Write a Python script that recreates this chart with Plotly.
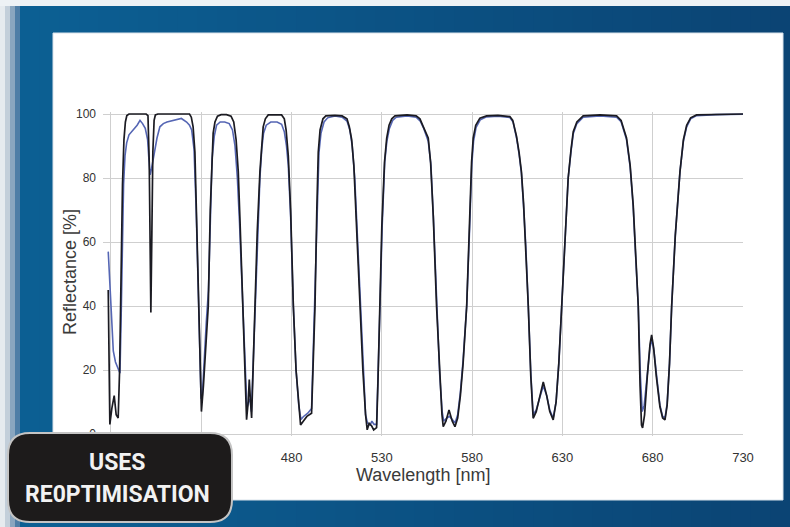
import plotly.graph_objects as go

W, H = 790, 527

# Design (target) reflectance of the multi-notch coating
design_nm = [378.5, 379.4, 380.5, 381.8, 382.9, 384.0, 384.8, 385.6, 386.4, 387.2, 388.0, 388.8, 390.0,
             399.5, 400.5, 401.2, 401.7, 402.1, 402.6, 403.2, 403.9, 404.6, 406.0,
             423.5, 424.5, 425.5, 426.5, 427.5, 428.5, 429.3, 430.1, 431.2, 432.5, 433.9, 435.0, 436.0,
             436.6, 437.6, 439.0, 441.0, 444.0, 446.5, 448.0, 449.3, 450.5, 451.5, 452.4, 453.3, 454.2,
             455.1, 456.0, 456.6, 457.3, 457.9, 458.8, 459.7, 461.0, 462.5, 463.5, 464.3, 465.5, 467.1,
             474.5, 476.0, 477.0, 478.2, 479.5, 481.0, 482.5, 484.0, 485.0, 486.5, 488.5, 491.1, 492.0,
             493.0, 494.0, 494.8, 495.8, 497.4, 499.0, 504.0, 508.0, 510.7, 512.0, 513.3, 514.5, 516.0,
             517.9, 519.5, 521.0, 521.9, 523.0, 524.4, 525.5, 527.1, 527.8, 528.9, 530.0, 531.5, 532.7,
             534.0, 535.5, 537.3, 544.0, 549.0, 551.1, 553.0, 555.7, 557.0, 558.5, 560.3, 562.0, 563.3,
             564.0, 565.5, 567.2, 569.0, 570.5, 572.0, 573.5, 575.0, 577.0, 578.5, 579.7, 580.6, 582.0,
             584.3, 588.0, 594.3, 600.9, 602.5, 604.6, 606.0, 607.3, 608.5, 609.6, 611.1, 612.5, 613.8,
             615.5, 617.5, 619.4, 621.3, 623.0, 624.9, 626.5, 628.0, 629.6, 631.5, 633.2, 634.8, 636.0,
             638.0, 641.5, 650.8, 660.0, 662.5, 665.5, 667.5, 669.2, 670.5, 672.0, 673.0, 673.8, 674.4,
             675.5, 677.0, 678.5, 679.4, 680.5, 682.0, 684.0, 685.5, 686.8, 688.0, 689.3, 690.5, 692.5,
             695.1, 697.0, 698.8, 701.0, 704.3, 715.0, 730.0]
design_r = [45, 3, 8, 12, 6, 5, 20, 50, 78, 92, 97.5, 99.5, 100,
            100, 99.5, 85, 60, 38, 60, 88, 98, 99.7, 100,
            100, 99, 96, 88, 65, 40, 20, 7, 15, 28, 40, 70, 88,
            94, 97.5, 99.3, 99.8, 99.8, 99.3, 97.5, 92, 82, 66, 51, 35, 19.5,
            4.5, 10, 17, 10, 5, 22, 40, 63, 82, 92, 96, 98.5, 99.7,
            99.7, 98.5, 95, 87, 70, 40, 20, 8, 2.8, 4, 5.5, 6.5, 25,
            40, 70, 88, 95, 98.5, 99.4, 99.6, 99.4, 98.5, 96, 92, 84, 65,
            40, 20, 6, 1.3, 3.3, 2.5, 1.3, 2, 15, 40, 65, 85, 92.5,
            96.5, 98.5, 99.4, 99.7, 99.4, 98.5, 96, 92.5, 85, 68, 40, 18, 6,
            2.3, 4, 7.5, 4, 2.3, 5, 12, 22, 40, 65, 85, 92.5, 96.5,
            98.7, 99.4, 99.6, 99.2, 98, 93, 88, 82, 72, 60, 40, 18, 4.9,
            7, 12, 16.3, 12, 7, 4.4, 10, 22, 40, 62, 80, 89, 94.5,
            97.5, 99.4, 99.7, 99.4, 98, 92.5, 84, 71.6, 57, 40, 15, 2.8, 1.9,
            6, 18, 28, 31, 27, 18, 8.5, 5, 4.4, 9, 22, 40, 62,
            82, 92, 96.5, 98.8, 99.7, 99.9, 100]

# Measured reflectance of the deposited coating
measured_nm = [378.5, 379.5, 380.5, 381.3, 382.5, 384.0, 385.0, 385.6, 386.3, 387.0, 387.8, 388.7, 390.0,
               391.5, 393.0, 394.5, 396.1, 397.5, 399.0, 400.3, 401.0, 401.7, 402.5, 403.5, 404.4, 405.5,
               407.1, 409.0, 411.0, 413.0, 416.4, 419.0, 421.9, 423.5, 424.7, 426.0, 427.2, 428.3, 429.2,
               429.9, 430.6, 431.5, 432.8, 434.0, 435.0, 436.0, 437.2, 438.5, 440.5, 443.0, 445.5, 447.3,
               448.7, 450.0, 451.2, 452.4, 453.5, 454.5, 455.3, 456.2, 457.0, 457.8, 458.6, 459.7, 461.0,
               462.5, 463.5, 464.5, 466.0, 468.5, 472.0, 474.5, 476.0, 477.2, 478.2, 479.5, 481.0, 482.5,
               484.0, 485.2, 486.5, 489.0, 491.1, 492.2, 493.2, 494.2, 495.2, 496.3, 498.0, 500.0, 504.0,
               508.0, 510.7, 512.3, 513.6, 515.0, 516.5, 518.0, 519.6, 521.0, 522.0, 523.5, 524.5, 525.7,
               527.1, 527.9, 529.0, 530.2, 531.6, 532.8, 534.2, 536.0, 538.0, 544.0, 549.0, 551.3, 553.2,
               555.7, 557.2, 558.6, 560.3, 562.0, 563.4, 564.3, 566.0, 567.5, 569.0, 570.6, 572.0, 573.5,
               575.0, 577.0, 578.6, 579.8, 580.8, 582.2, 584.5, 588.0, 594.3, 600.9, 602.7, 604.6, 606.0,
               607.3, 608.5, 609.7, 611.1, 612.5, 613.8, 615.5, 617.5, 619.4, 621.3, 623.0, 624.9, 626.5,
               628.0, 629.6, 631.5, 633.2, 634.8, 636.0, 638.0, 641.5, 650.8, 660.0, 662.5, 665.5, 667.5,
               669.2, 670.5, 672.0, 673.2, 674.2, 675.3, 677.0, 678.5, 679.5, 680.7, 682.2, 684.0, 685.5,
               686.8, 688.0, 689.3, 690.5, 692.5, 695.1, 697.0, 698.8, 701.0, 704.3, 715.0, 730.0]
measured_r = [57, 45, 33, 26, 22.5, 20, 19, 35, 60, 78, 87, 91, 93.5,
              94.5, 95.5, 96.5, 98, 97, 95.5, 92, 86, 81, 83, 86, 89, 92.5,
              96, 97, 97.5, 97.8, 98.3, 98.6, 97.5, 96.5, 95, 89, 70, 45, 25,
              11, 12, 22, 35, 45, 70, 86, 93, 96.5, 97.5, 97.5, 97, 95,
              90, 80, 66, 50, 33, 18, 8, 10, 11, 7, 20, 38, 62,
              80, 89, 94, 96.5, 97.5, 97.5, 96.8, 94.5, 90, 84, 68, 40, 20,
              9, 4.5, 5.4, 6.5, 8, 30, 45, 72, 88, 94, 97.5, 98.8, 99.4,
              99, 97.8, 95, 90, 80, 62, 40, 20, 6, 3.5, 2.8, 4, 3,
              3, 16, 40, 65, 85, 91.5, 95.5, 98, 99, 99.4, 99, 97.8, 95.5,
              91.5, 84, 67, 40, 19, 7, 4, 5, 5.5, 4.5, 3.5, 6, 13,
              23, 40, 64, 84, 91.5, 95.8, 98.2, 99.1, 99.3, 98.9, 97.5, 92.5, 87.5,
              81.5, 71, 59, 40, 19, 6, 7.5, 11.5, 15, 12, 7.5, 5, 10,
              22, 40, 62, 80, 88.5, 93.8, 97, 99, 99.4, 99, 97.6, 92, 83.5,
              71, 56, 40, 18, 7, 9, 19, 27, 29.5, 26, 18, 9, 5.5,
              5, 9.5, 22, 40, 62, 82, 91.5, 96, 98.5, 99.5, 99.8, 99.9]

# gridlines every 50 nm; the first two labels sit under the badge
x_ticks = [380, 430, 480, 530, 580, 630, 680, 730]
x_tick_text = ["", "", "480", "530", "580", "630", "680", "730"]
y_ticks = [0, 20, 40, 60, 80, 100]

badge_lines = ["USES", "RE0PTIMISATION"]


def px(x):
    return x / W


def py(y):
    return 1 - y / H


fig = go.Figure()

fig.add_trace(go.Scatter(x=measured_nm, y=measured_r, mode="lines",
                         line=dict(color="#5566b4", width=1.6), hoverinfo="skip"))
fig.add_trace(go.Scatter(x=design_nm, y=design_r, mode="lines",
                         line=dict(color="#1b1b22", width=1.7), hoverinfo="skip"))

shapes = []

# blue frame, drawn as narrow strips shading from left to right
left_rgb = (12, 96, 148)
right_rgb = (11, 68, 116)
n_strips = 40
for i in range(n_strips):
    t = i / (n_strips - 1)
    c = tuple(round(a + (b - a) * t) for a, b in zip(left_rgb, right_rgb))
    shapes.append(dict(type="rect", xref="paper", yref="paper", layer="below",
                       x0=px(i * W / n_strips), x1=px((i + 1) * W / n_strips + 1),
                       y0=0, y1=1, line=dict(width=0),
                       fillcolor="rgb(%d,%d,%d)" % c))

# pale edge along the top and left
shapes.append(dict(type="rect", xref="paper", yref="paper", layer="below",
                   x0=0, x1=1, y0=py(6), y1=1, line=dict(width=0), fillcolor="#eef2f5"))
for x0, x1, col in [(0, 5, "#e6ebef"), (5, 10, "#c3cfda"), (10, 15, "#8aa6bf"), (15, 20, "#4f7ea6")]:
    shapes.append(dict(type="rect", xref="paper", yref="paper", layer="below",
                       x0=px(x0), x1=px(x1), y0=0, y1=py(6), line=dict(width=0), fillcolor=col))

# white chart panel
shapes.append(dict(type="rect", xref="paper", yref="paper", layer="below",
                   x0=px(53), x1=px(783), y0=py(500), y1=py(33),
                   line=dict(color="#d8e2ea", width=1), fillcolor="#ffffff"))

# rounded badge in the lower-left corner
bx0, bx1, by0, by1, r = 8, 232, 433, 522, 22


def P(x, y):
    return "%.5f,%.5f" % (px(x), py(y))


badge_path = ("M " + P(bx0 + r, by0) + " L " + P(bx1 - r, by0) +
              " Q " + P(bx1, by0) + " " + P(bx1, by0 + r) +
              " L " + P(bx1, by1 - r) + " Q " + P(bx1, by1) + " " + P(bx1 - r, by1) +
              " L " + P(bx0 + r, by1) + " Q " + P(bx0, by1) + " " + P(bx0, by1 - r) +
              " L " + P(bx0, by0 + r) + " Q " + P(bx0, by0) + " " + P(bx0 + r, by0) + " Z")
shapes.append(dict(type="path", xref="paper", yref="paper", layer="above", path=badge_path,
                   fillcolor="#1d1b1b", line=dict(color="#c4c4c4", width=2)))

axis_font = dict(family="Liberation Sans, Arial, sans-serif", size=18, color="#3a3a3a")
badge_font = dict(family="Roboto, sans-serif", size=23, color="#f2f2f2", weight="bold")

annotations = [
    dict(text="Wavelength [nm]", x=px(423), y=py(475), xref="paper", yref="paper",
         showarrow=False, xanchor="center", yanchor="middle", font=axis_font),
    dict(text="Reflectance [%]", x=px(70), y=py(272), xref="paper", yref="paper",
         showarrow=False, xanchor="center", yanchor="middle", textangle=-90, font=axis_font),
    dict(text=badge_lines[0], x=px(117), y=py(462), xref="paper", yref="paper",
         showarrow=False, xanchor="center", yanchor="middle", font=badge_font),
    dict(text=badge_lines[1], x=px(117), y=py(494), xref="paper", yref="paper",
         showarrow=False, xanchor="center", yanchor="middle", font=badge_font),
]

fig.update_layout(
    width=W, height=H,
    autosize=False,
    margin=dict(l=0, r=0, t=0, b=0, pad=0, autoexpand=False),
    paper_bgcolor="#0b5587",
    plot_bgcolor="#ffffff",
    showlegend=False,
    shapes=shapes,
    annotations=annotations,
    xaxis=dict(domain=[px(103), px(743)], range=[375.6, 730], automargin=False,
               tickvals=x_ticks, ticktext=x_tick_text,
               showgrid=True, gridcolor="#cfcfcf", gridwidth=1,
               zeroline=False, showline=False, ticks="",
               ticklabelstandoff=12,
               tickfont=dict(family="Liberation Sans, Arial, sans-serif", size=13, color="#333333")),
    yaxis=dict(domain=[py(435.6), py(112.4)], range=[-0.5, 100.5], automargin=False,
               tickvals=y_ticks, ticktext=[str(v) for v in y_ticks],
               showgrid=True, gridcolor="#cfcfcf", gridwidth=1,
               zeroline=False, showline=False, ticks="",
               ticklabelstandoff=6,
               tickfont=dict(family="Liberation Sans, Arial, sans-serif", size=12, color="#333333")),
)

fig.write_html("out.html")
